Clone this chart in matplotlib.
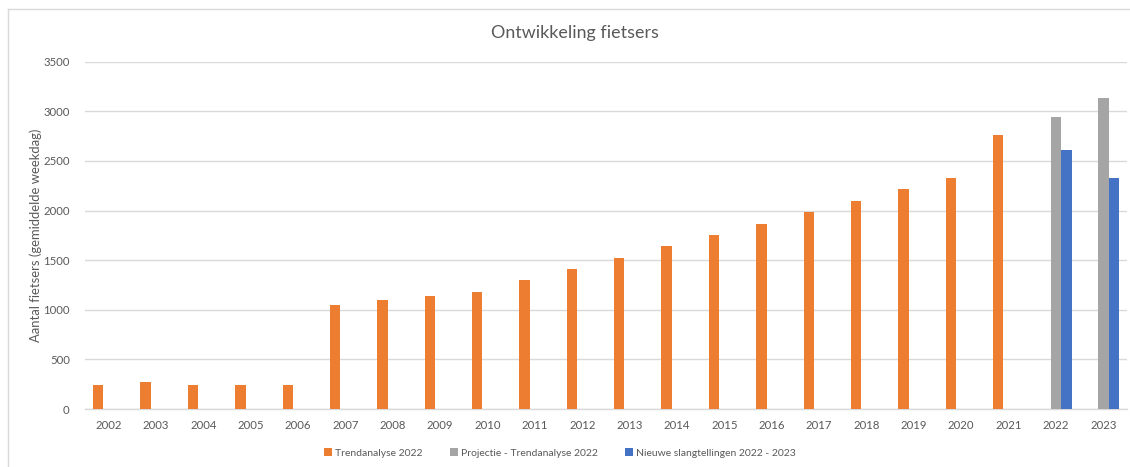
import matplotlib
matplotlib.use("Agg")
import matplotlib.pyplot as plt
import numpy as np
from matplotlib.lines import Line2D

years = [str(y) for y in range(2002, 2024)]
trend = [242, 275, 242, 242, 242, 1045, 1095, 1136, 1176, 1297, 1408, 1525,
         1643, 1750, 1868, 1985, 2099, 2214, 2325, 2761, None, None]
projectie = [None] * 20 + [2939, 3131]
nieuw = [None] * 20 + [2607, 2325]

series_names = ["Trendanalyse 2022", "Projectie - Trendanalyse 2022",
                "Nieuwe slangtellingen 2022 - 2023"]
colors = ["#ED7D31", "#A5A5A5", "#4472C4"]

plt.rcParams['font.family'] = ['Lato', 'DejaVu Sans']
txt = "#595959"

fig = plt.figure(figsize=(11.3, 4.67), dpi=100)
ax = fig.add_axes([85/1130, 1-409/467, (1127-85)/1130, (409-61.7)/467])

x = np.arange(len(years))
w = 0.22
for i, (vals, name, c) in enumerate(zip([trend, projectie, nieuw], series_names, colors)):
    xs = [xx + (i - 1) * w for xx, v in zip(x, vals) if v is not None]
    vs = [v for v in vals if v is not None]
    ax.bar(xs, vs, width=w, color=c, label=name, zorder=3)

ax.set_xlim(-0.5, len(years) - 0.5)
ax.set_ylim(0, 3500)
ax.set_yticks(np.arange(0, 3501, 500))
ax.set_xticks(x)
ax.set_xticklabels(years)
ax.grid(axis='y', color="#D9D9D9", linewidth=1.0, zorder=0)
for s in ['top', 'right', 'left']:
    ax.spines[s].set_visible(False)
ax.spines['bottom'].set_color("#D9D9D9")
ax.spines['bottom'].set_linewidth(1.0)
ax.tick_params(axis='both', length=0, colors=txt, labelsize=8.2)
ax.tick_params(axis='y', pad=11)
ax.tick_params(axis='x', pad=8)
ax.set_ylabel("Aantal fietsers (gemiddelde weekdag)", color=txt, fontsize=9.4)
ax.yaxis.set_label_coords((42 - 85) / 1042, 0.5)

fig.text(575/1130, 1 - 33/467, "Ontwikkeling fietsers", ha='center', va='center',
         color=txt, fontsize=12.9)

handles, labels = ax.get_legend_handles_labels()
leg = fig.legend(handles, labels, loc='center', bbox_to_anchor=(560/1130, 1 - 453/467),
                 ncol=3, frameon=False, fontsize=7.5, handlelength=0.75, handleheight=0.75,
                 handletextpad=0.3, columnspacing=2.6, labelcolor=txt)

# chart border
fig.add_artist(Line2D([8/1130, 8/1130], [0, 1 - 9/467], transform=fig.transFigure,
                      color="#D9D9D9", linewidth=1))
fig.add_artist(Line2D([8/1130, 1], [1 - 9/467, 1 - 9/467], transform=fig.transFigure,
                      color="#D9D9D9", linewidth=1))

fig.savefig("out.png", dpi=100)
